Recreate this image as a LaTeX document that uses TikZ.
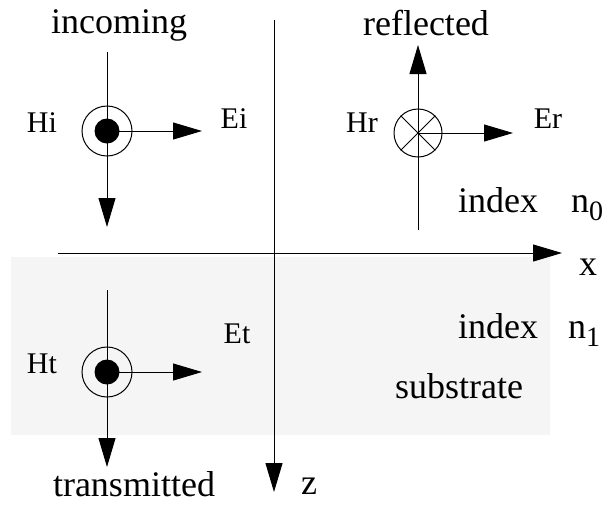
\documentclass[tikz,border=0pt]{standalone}
\usepackage{fontspec}
\setmainfont{Liberation Serif}
\usetikzlibrary{arrows.meta}
\newcommand{\lowidx}[1]{\raisebox{-8pt}{\fontsize{28}{28}\selectfont #1}}
\tikzset{
  >={Triangle[length=29pt,width=17pt]},
  ray/.style={line width=1pt},
  bigtext/.style={anchor=base, inner sep=0pt, font=\fontsize{36}{40}\selectfont},
  smalltext/.style={anchor=base, inner sep=0pt, font=\fontsize{30}{32}\selectfont},
  hout/.style={circle, draw, line width=1pt, minimum size=50pt, inner sep=0pt},
  hdot/.style={circle, fill, minimum size=25pt, inner sep=0pt}
}
\begin{document}
\begin{tikzpicture}[x=1pt, y=-1pt]
        \useasboundingbox (0,0) rectangle (602,504);
        % Substrate
        \fill[black!4] (11,257) rectangle (550,435);

        % Axes
        \coordinate (xstart) at (58,253);
        \coordinate (xend) at (562,253);
        \coordinate (zstart) at (274,20);
        \coordinate (zend) at (274,492);
        \draw[ray, ->] (xstart) -- (xend);
        \draw[ray, ->] (zstart) -- (zend);
        \node[bigtext] (xlab) at (588,275) {x};
        \node[bigtext] (zlab) at (309,494) {z};

        % Incoming wave
        \node[hout] (Hinc) at (107,131) {};
        \node[hdot] (Hincdot) at (Hinc.center) {};
        \coordinate (inctop) at (107,52);
        \coordinate (incend) at (107,227);
        \coordinate (Eincend) at (202,131);
        \draw[ray, ->] (inctop) -- (incend);
        \draw[ray, ->] (Hinc.center) -- (Eincend);
        \node[bigtext] (inclab) at (119,33) {incoming};
        \node[smalltext] (Hilab) at (42,132) {Hi};
        \node[smalltext] (Eilab) at (234,128) {Ei};

        % Reflected wave
        \node[hout, minimum size=48pt] (Href) at (418,133) {};
        \draw[ray] (Href.45) -- (Href.225);
        \draw[ray] (Href.135) -- (Href.315);
        \coordinate (refbot) at (418,230);
        \coordinate (refend) at (418,45);
        \coordinate (Erefend) at (513,133);
        \draw[ray, ->] (refbot) -- (refend);
        \draw[ray, ->] (Href.center) -- (Erefend);
        \node[bigtext] (reflab) at (426,35) {reflected};
        \node[smalltext] (Hrlab) at (362,132) {Hr};
        \node[smalltext] (Erlab) at (548,128) {Er};

        % Transmitted wave
        \node[hout] (Htr) at (107,372) {};
        \node[hdot] (Htrdot) at (Htr.center) {};
        \coordinate (trtop) at (107,290);
        \coordinate (trend) at (107,467);
        \coordinate (Etrend) at (202,372);
        \draw[ray, ->] (trtop) -- (trend);
        \draw[ray, ->] (Htr.center) -- (Etrend);
        \node[bigtext] (trlab) at (134,496) {transmitted};
        \node[smalltext] (Htlab) at (42,373) {Ht};
        \node[smalltext] (Etlab) at (237,343) {Et};

        % Indices
        \node[bigtext] (idxtop) at (498,212) {index};
        \node[bigtext, anchor=base west] (ntop) at (571,212) {n\lowidx{0}};
        \node[bigtext] (idxbot) at (498,338) {index};
        \node[bigtext, anchor=base west] (nbot) at (568,338) {n\lowidx{1}};
        \node[bigtext] (sublab) at (459,398) {substrate};
\end{tikzpicture}
\end{document}
